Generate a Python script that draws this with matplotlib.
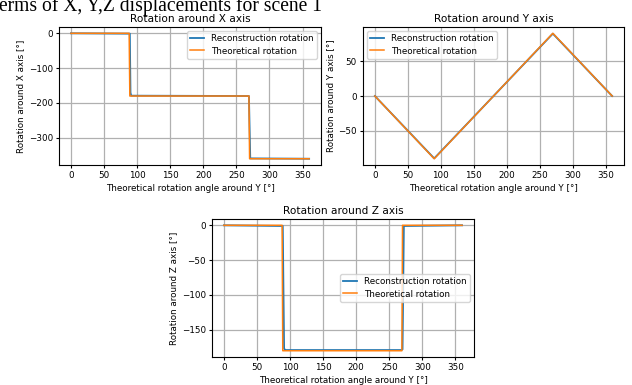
import matplotlib.pyplot as plt
from matplotlib.ticker import MultipleLocator

# theoretical rotation angle around Y (deg) and the resulting Euler angles
x_theo = [0, 88, 89, 269, 270, 360]
rx_theo = [0, 0, -180, -180, -360, -360]
x_rec = [0, 89, 90, 91, 269, 270, 271, 360]
rx_rec = [0, -1, -170, -179, -180, -270, -359, -360]

y_theo = [0, 90, 270, 360]
ry_theo = [0, -90, 90, 0]
y_rec = [0, 90, 270, 360]
ry_rec = [0, -89.5, 89.5, 0]

z_theo = [0, 88, 89, 269, 270, 360]
rz_theo = [0, 0, -180, -180, 0, 0]
z_rec = [0, 89, 90, 91, 93, 268, 270, 271, 272, 360]
rz_rec = [0, -1, -90, -177, -179, -179, -178, -90, -1, 0]

fs = 6.3

fig = plt.figure(figsize=(6.32, 3.85), dpi=100)
fig.text(-0.002, 0.972, "erms of X, Y,Z displacements for scene 1",
         family="Liberation Serif", fontsize=14.1, va="baseline")

ax1 = fig.add_axes([0.0934, 0.5714, 0.4146, 0.3584])
ax2 = fig.add_axes([0.5744, 0.5714, 0.4130, 0.3584])
ax3 = fig.add_axes([0.3354, 0.0727, 0.4146, 0.3584])

panels = [
    (ax1, x_rec, rx_rec, x_theo, rx_theo, "X", "upper right", 100),
    (ax2, y_rec, ry_rec, y_theo, ry_theo, "Y", "upper left", 50),
    (ax3, z_rec, rz_rec, z_theo, rz_theo, "Z", "center right", 50),
]

for ax, xr, yr, xt, yt, name, loc, ystep in panels:
    ax.plot(xr, yr, color="#1f77b4", lw=1.3, label="Reconstruction rotation")
    ax.plot(xt, yt, color="#ff7f0e", lw=1.1, label="Theoretical rotation")
    ax.set_title("Rotation around " + name + " axis", fontsize=fs * 1.2, pad=3.7)
    ax.set_xlabel("Theoretical rotation angle around Y [°]", fontsize=fs, labelpad=2.5)
    ax.set_ylabel("Rotation around " + name + " axis [°]", fontsize=fs, labelpad=2.5)
    ax.tick_params(labelsize=fs, length=2.2, pad=2.2)
    ax.xaxis.set_major_locator(MultipleLocator(50))
    ax.yaxis.set_major_locator(MultipleLocator(ystep))
    ax.grid(True, color="#b0b0b0", lw=0.9)
    for s in ax.spines.values():
        s.set_linewidth(0.8)
    ax.legend(loc=loc, fontsize=fs, handlelength=1.6, borderpad=0.35,
              labelspacing=0.35)

plt.savefig("out.png", dpi=100)
